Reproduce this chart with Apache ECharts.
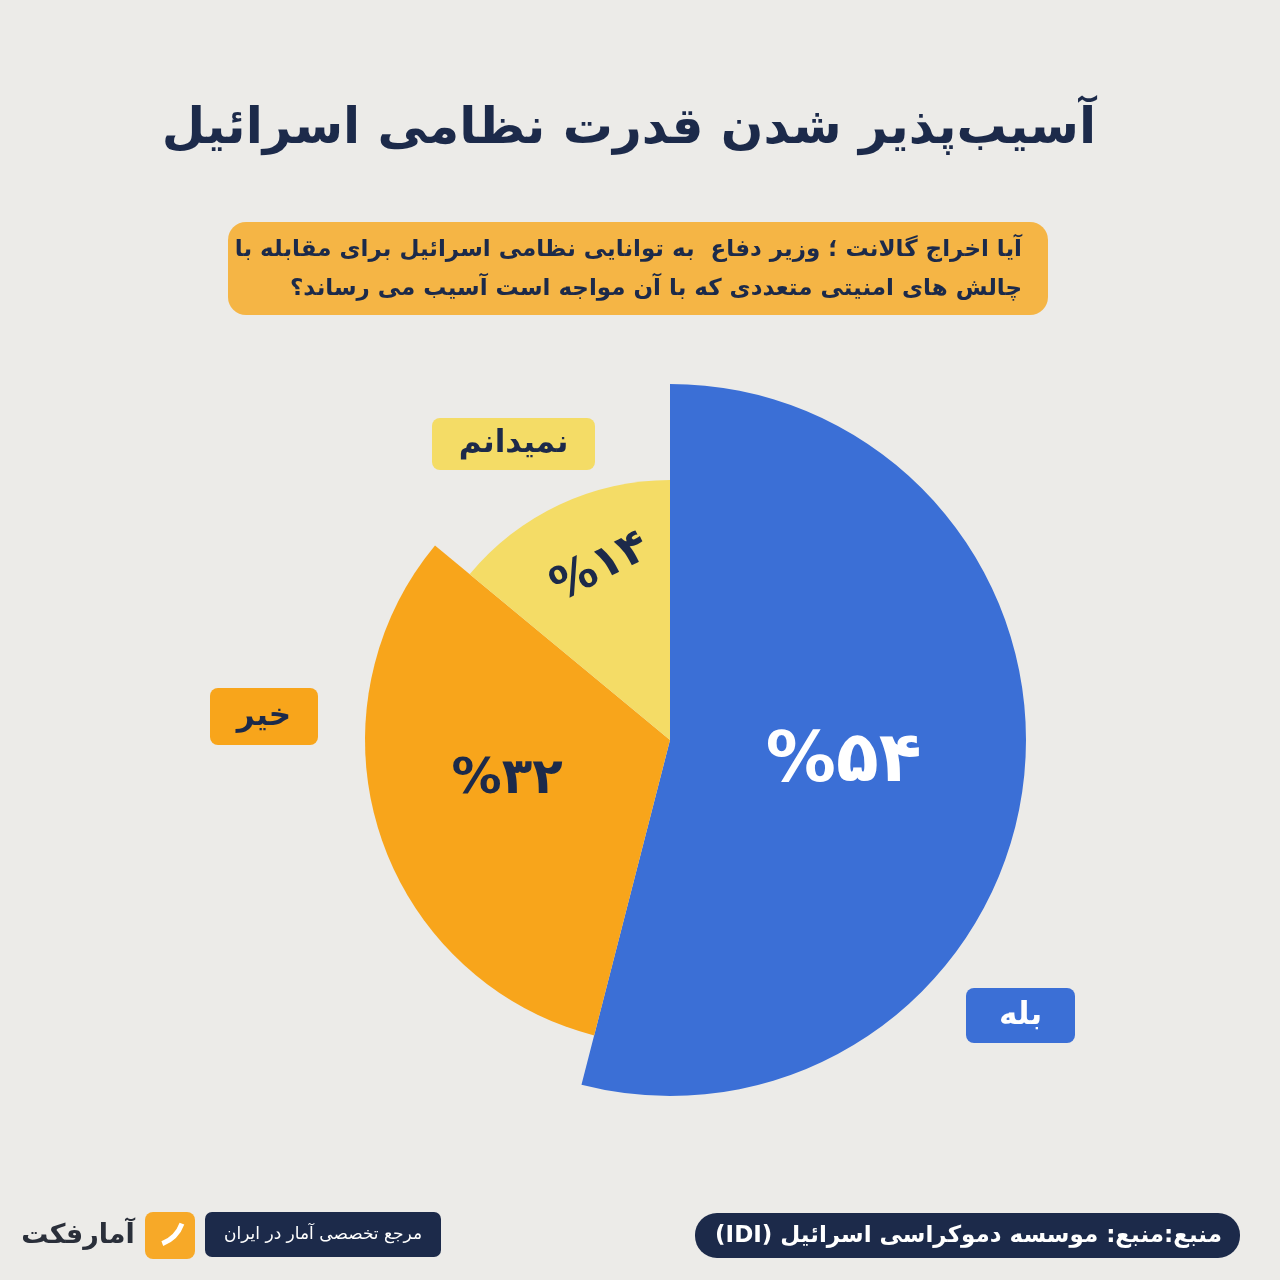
<!DOCTYPE html>
<html><head><meta charset="utf-8">
<script src="https://cdn.jsdelivr.net/npm/echarts/dist/echarts.min.js"></script>
<style>html,body{margin:0;padding:0;background:#ecebe8;} #c{width:1280px;height:1280px;direction:rtl;}</style>
</head><body><div id="c"></div>
<script>
// ---- data ----
const categories = ['بله', 'خیر', 'نمیدانم'];
const values = [54, 32, 14];
const titleText = 'آسیب‌پذیر شدن قدرت نظامی اسرائیل';
const questionLines = ['آیا اخراج گالانت ؛ وزیر دفاع  به توانایی نظامی اسرائیل برای مقابله با',
                       'چالش های امنیتی متعددی که با آن مواجه است آسیب می رساند؟'];
const sourceText = 'منبع:منبع: موسسه دموکراسی اسرائیل (IDI)';
const taglineText = 'مرجع تخصصی آمار در ایران';
const brandText = 'آمارفکت';

// ---- styles ----
const FONT = "'DejaVu Sans', 'Noto Sans', sans-serif";
const NAVY = '#1c2a4a';
const sliceColors = ['#3b6fd6', '#f8a51b', '#f4dc66'];
const sliceRadii = [356, 305, 260];
const labelColors = ['#ffffff', NAVY, NAVY];
const labelSizes = [70, 50, 46];
const labelRotate = [0, 0, 27];
const labelShift = [[-6, 0], [-15, -8], [12, -52]];
const tagBoxes = [
  {x: 966, y: 988, w: 109, h: 55, fill: '#3b6fd6', color: '#ffffff'},
  {x: 210, y: 688, w: 108, h: 57, fill: '#f8a51b', color: NAVY},
  {x: 432, y: 418, w: 163, h: 52, fill: '#f4dc66', color: NAVY}
];
const toFa = s => String(s).replace(/\d/g, d => '۰۱۲۳۴۵۶۷۸۹'[d]);

const series = categories.map((cat, i) => ({
  type: 'pie',
  center: [670, 740],
  radius: [0, sliceRadii[i]],
  startAngle: 90,
  clockwise: true,
  silent: true,
  animation: false,
  labelLine: {show: false},
  label: {
    show: true, position: 'inside', rotate: labelRotate[i],
    color: labelColors[i], fontSize: labelSizes[i], fontWeight: 'bold', fontFamily: FONT,
    formatter: p => '%' + toFa(p.value)
  },
  labelLayout: p => ({dx: labelShift[i][0], dy: labelShift[i][1]}),
  data: values.map((v, j) => ({
    value: v, name: categories[j],
    itemStyle: {color: j === i ? sliceColors[i] : 'rgba(0,0,0,0)'},
    label: {show: j === i}
  }))
}));

const graphics = [];
graphics.push({type: 'text', x: 629, y: 130, style: {text: titleText, font: `bold 50px ${FONT}`, fill: NAVY, align: 'center', verticalAlign: 'middle'}});
graphics.push({type: 'rect', shape: {x: 228, y: 222, width: 820, height: 93, r: 18}, style: {fill: '#f5b545'}});
questionLines.forEach((t, k) => graphics.push({type: 'text', x: 1022, y: 250 + k * 39,
  style: {text: t, font: `bold 23px ${FONT}`, fill: NAVY, align: 'right', verticalAlign: 'middle'}}));
tagBoxes.forEach((b, i) => {
  graphics.push({type: 'rect', shape: {x: b.x, y: b.y, width: b.w, height: b.h, r: 8}, style: {fill: b.fill}});
  graphics.push({type: 'text', x: b.x + b.w / 2, y: b.y + b.h / 2,
    style: {text: categories[i], font: `bold 31px ${FONT}`, fill: b.color, align: 'center', verticalAlign: 'middle'}});
});
// footer
graphics.push({type: 'rect', shape: {x: 695, y: 1213, width: 545, height: 45, r: 22}, style: {fill: NAVY}});
graphics.push({type: 'text', x: 1222, y: 1236, style: {text: sourceText, font: `bold 23px ${FONT}`, fill: '#ffffff', align: 'right', verticalAlign: 'middle'}});
graphics.push({type: 'rect', shape: {x: 205, y: 1212, width: 236, height: 45, r: 7}, style: {fill: NAVY}});
graphics.push({type: 'text', x: 323, y: 1235, style: {text: taglineText, font: `17px ${FONT}`, fill: '#ffffff', align: 'center', verticalAlign: 'middle'}});
graphics.push({type: 'rect', shape: {x: 145, y: 1212, width: 50, height: 47, r: 8}, style: {fill: '#f7a928'}});
graphics.push({type: 'arc', shape: {cx: 150, cy: 1212, r: 34, startAngle: 0.35, endAngle: 1.2}, style: {stroke: '#ffffff', lineWidth: 5, fill: null}});
graphics.push({type: 'text', x: 78, y: 1236, style: {text: brandText, font: `bold 27px ${FONT}`, fill: '#2a2f3a', align: 'center', verticalAlign: 'middle'}});

const chart = echarts.init(document.getElementById('c'), null, {renderer: 'canvas'});
chart.setOption({
  backgroundColor: '#ecebe8',
  animation: false,
  series: series,
  graphic: graphics
});
</script></body></html>
